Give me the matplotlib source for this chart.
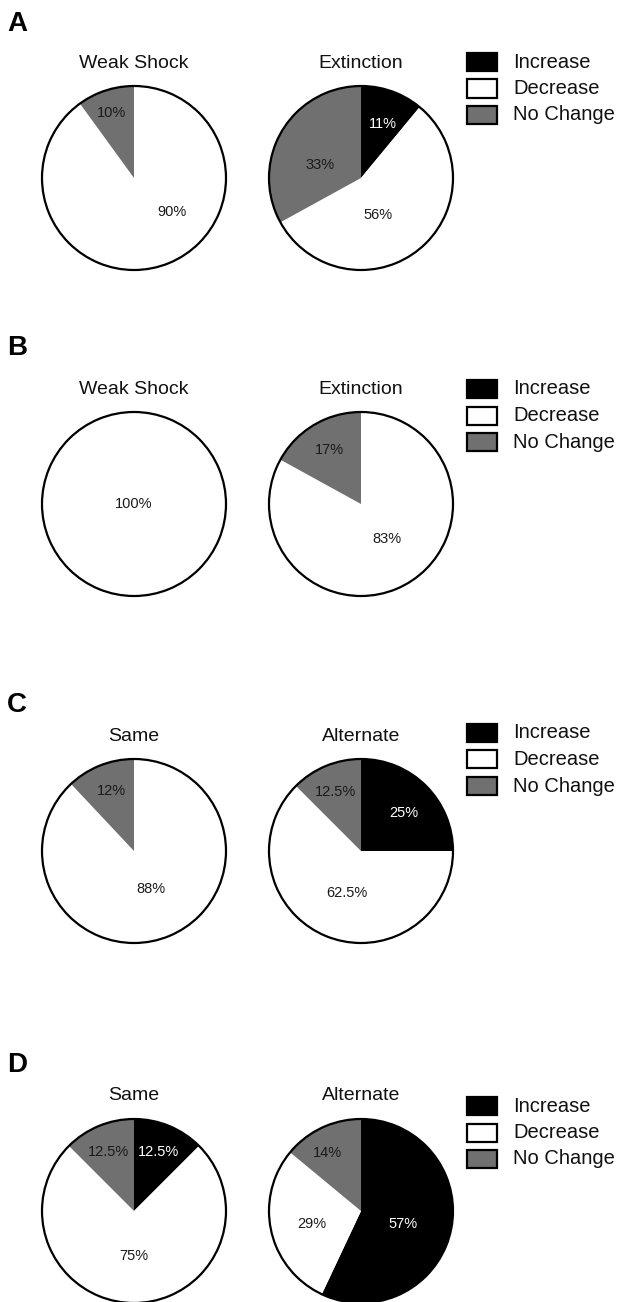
import matplotlib
matplotlib.use('Agg')
from matplotlib import pyplot as plt
from matplotlib.patches import Rectangle

plt.rcParams['font.family'] = ['Liberation Sans', 'DejaVu Sans']

# ---- data ----
categories = ['Increase', 'Decrease', 'No Change']
colors = ['black', 'white', '#707070']
text_colors = ['white', '#1a1a1a', '#1a1a1a']

panel_letters = ['A', 'B', 'C', 'D']
titles_A = ['Weak Shock', 'Extinction']
titles_B = ['Weak Shock', 'Extinction']
titles_C = ['Same', 'Alternate']
titles_D = ['Same', 'Alternate']

A_weak_shock = [0, 90, 10]
A_extinction = [11, 56, 33]
B_weak_shock = [0, 100, 0]
B_extinction = [0, 83, 17]
C_same = [0, 88, 12]
C_alternate = [25, 62.5, 12.5]
D_same = [12.5, 75, 12.5]
D_alternate = [57, 29, 14]

# ---- layout (pixels from top-left, label offsets in pie radius units) ----
W, H = 621, 1302
R = 92
pie_x = [134, 361]
pie_y = [178, 504, 851, 1211]
letter_y = [24, 348, 705, 1065]
legend_y = [62, 389, 733, 1106]

label_pos = {
    'A': [[None, (0.41, -0.37), (-0.24, 0.71)],
          [(0.24, 0.59), (0.18, -0.40), (-0.45, 0.14)]],
    'B': [[None, (0.0, 0.0), None],
          [None, (0.28, -0.38), (-0.34, 0.59)]],
    'C': [[None, (0.18, -0.41), (-0.25, 0.65)],
          [(0.46, 0.41), (-0.15, -0.46), (-0.28, 0.64)]],
    'D': [[(0.27, 0.64), (0.0, -0.49), (-0.28, 0.64)],
          [(0.46, -0.14), (-0.54, -0.14), (-0.36, 0.63)]],
}


def fx(x):
    return x / W


def fy(y):
    return 1 - y / H


def pie_plot(fig, cx, cy, values, title, offsets):
    pad = 1.35
    size = 2 * R * pad
    ax = fig.add_axes([fx(cx - size / 2), fy(cy + size / 2), size / W, size / H])
    vals = [v for v in values if v > 0]
    cols = [colors[i] for i, v in enumerate(values) if v > 0]
    ax.pie(vals, colors=cols, startangle=90, counterclock=False, radius=1,
           wedgeprops=dict(linewidth=0, antialiased=True))
    # outer outline
    ax.pie([1], colors=['none'], startangle=90, radius=1,
           wedgeprops=dict(edgecolor='black', linewidth=1.6, fill=False))
    for i, v in enumerate(values):
        if v > 0 and offsets[i] is not None:
            ax.text(offsets[i][0], offsets[i][1], f'{v:g}%', ha='center', va='center',
                    fontsize=10.5, color=text_colors[i])
    ax.text(0, 1.25, title, ha='center', va='center', fontsize=14, color='#111111')
    ax.set_xlim(-pad, pad)
    ax.set_ylim(-pad, pad)
    ax.set_aspect('equal')
    ax.axis('off')


def legend_plot(fig, top):
    for i, name in enumerate(categories):
        y = top + i * 26.5
        fig.patches.append(Rectangle((fx(467), fy(y + 9)), 30 / W, 18 / H,
                                     facecolor=colors[i], edgecolor='black',
                                     linewidth=1.6, transform=fig.transFigure))
        fig.text(fx(513), fy(y), name, ha='left', va='center', fontsize=14.5, color='#111111')


if __name__ == '__main__':
    fig = plt.figure(figsize=(W / 100, H / 100), dpi=100)

    all_values = [[A_weak_shock, A_extinction], [B_weak_shock, B_extinction],
                  [C_same, C_alternate], [D_same, D_alternate]]
    all_titles = [titles_A, titles_B, titles_C, titles_D]

    for p, letter in enumerate(panel_letters):
        fig.text(fx(7), fy(letter_y[p]), letter, ha='left', va='center',
                 fontsize=20, fontweight='bold')
        for k in range(2):
            pie_plot(fig, pie_x[k], pie_y[p], all_values[p][k], all_titles[p][k],
                     label_pos[letter][k])
        legend_plot(fig, legend_y[p])

    fig.savefig('out.png', dpi=100)
